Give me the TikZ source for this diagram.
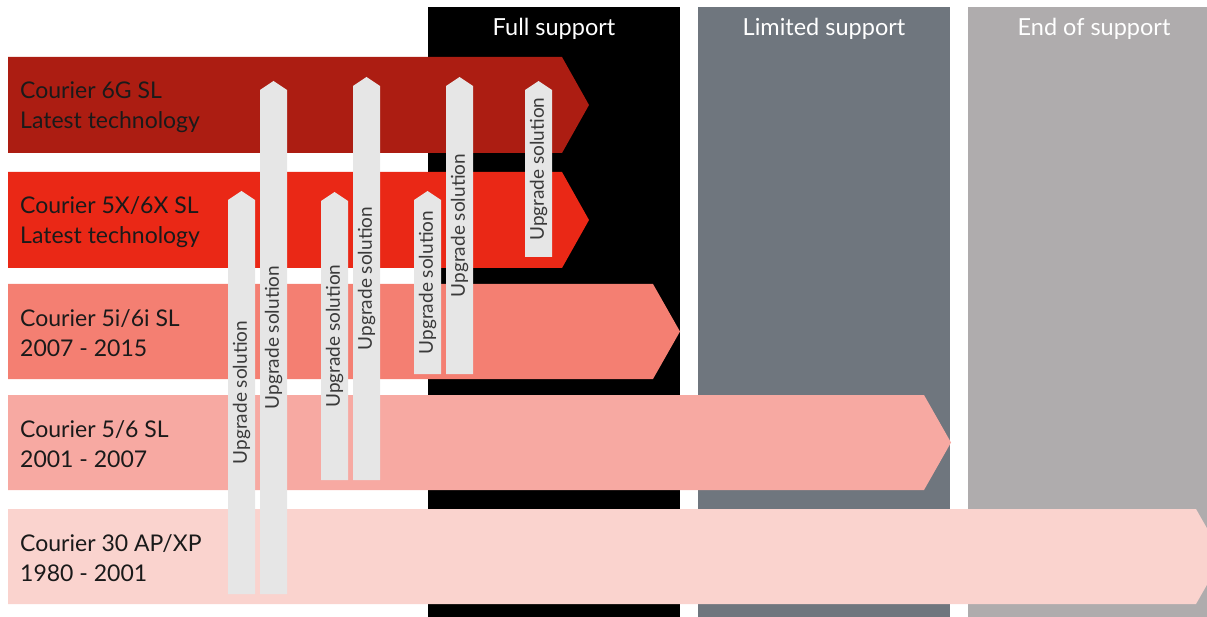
\documentclass[tikz,border=0pt]{standalone}
\usepackage{fontspec}
\setmainfont{Lato}

\definecolor{sixg}{HTML}{AC1D12}
\definecolor{fivex}{HTML}{EA2816}
\definecolor{fivei}{HTML}{F47F72}
\definecolor{fivesix}{HTML}{F7A9A2}
\definecolor{thirty}{HTML}{FAD3CE}
\definecolor{limgrey}{HTML}{6F767E}
\definecolor{endgrey}{HTML}{AFACAD}
\definecolor{upgrey}{HTML}{E6E6E6}
\definecolor{upgtxt}{HTML}{3A3A3A}
\definecolor{tagtxt}{HTML}{1A1A1A}

\begin{document}
\begin{tikzpicture}[x=1pt,y=-1pt,
  upgr/.style={fill=upgrey},
  tag/.style={anchor=west,align=left,inner sep=0pt,text=tagtxt,font=\fontsize{23}{30}\selectfont},
  head/.style={text=white,font=\fontsize{23.5}{26}\selectfont},
  upgtext/.style={rotate=90,text=upgtxt,font=\fontsize{19}{22}\selectfont}]
\useasboundingbox (0,0) rectangle (1207,617);

% support columns
\fill[black] (428,7) rectangle (680,617);
\fill[limgrey] (698,7) rectangle (950,617);
\fill[endgrey] (968,7) rectangle (1222,617);
\node[head] (full) at (554,29) {Full support};
\node[head] (limited) at (824,29) {Limited support};
\node[head] (end) at (1094,29) {End of support};

% product lines: top/bottom/end of body/colour
\foreach \yt/\yb/\xe/\c [count=\i] in {57/153/562/sixg, 172/268/562/fivex,
    284/379/653/fivei, 395/490/924/fivesix, 509/604/1196/thirty}
  \fill[\c] (8,\yt) -- (\xe,\yt) -- ({\xe+27},{(\yt+\yb)/2}) -- (\xe,\yb)
    -- (8,\yb) -- cycle;

\node[tag] (line6g) at (20,107) {Courier 6G SL\\Latest technology};
\node[tag] (line5x) at (20,222) {Courier 5X/6X SL\\Latest technology};
\node[tag] (line5i) at (20,333) {Courier 5i/6i SL\\2007 - 2015};
\node[tag] (line56) at (20,444) {Courier 5/6 SL\\2001 - 2007};
\node[tag] (line30) at (20,558) {Courier 30 AP/XP\\1980 - 2001};

% upgrade arrows: left/top/bottom
\foreach \xl/\yt/\yb [count=\j] in {228/191/594, 260/81/594, 321/192/480,
    353/77/480, 414/191/374, 446/77/374, 525/81/257}{
  \fill[upgr] (\xl,\yb) -- (\xl,\yt+9) -- (\xl+13.5,\yt) -- (\xl+27,\yt+9)
    -- (\xl+27,\yb) -- cycle;
  \node[upgtext] (upg\j) at ({\xl+13.5},{(\yt+\yb)/2}) {Upgrade solution};
}
\end{tikzpicture}
\end{document}
